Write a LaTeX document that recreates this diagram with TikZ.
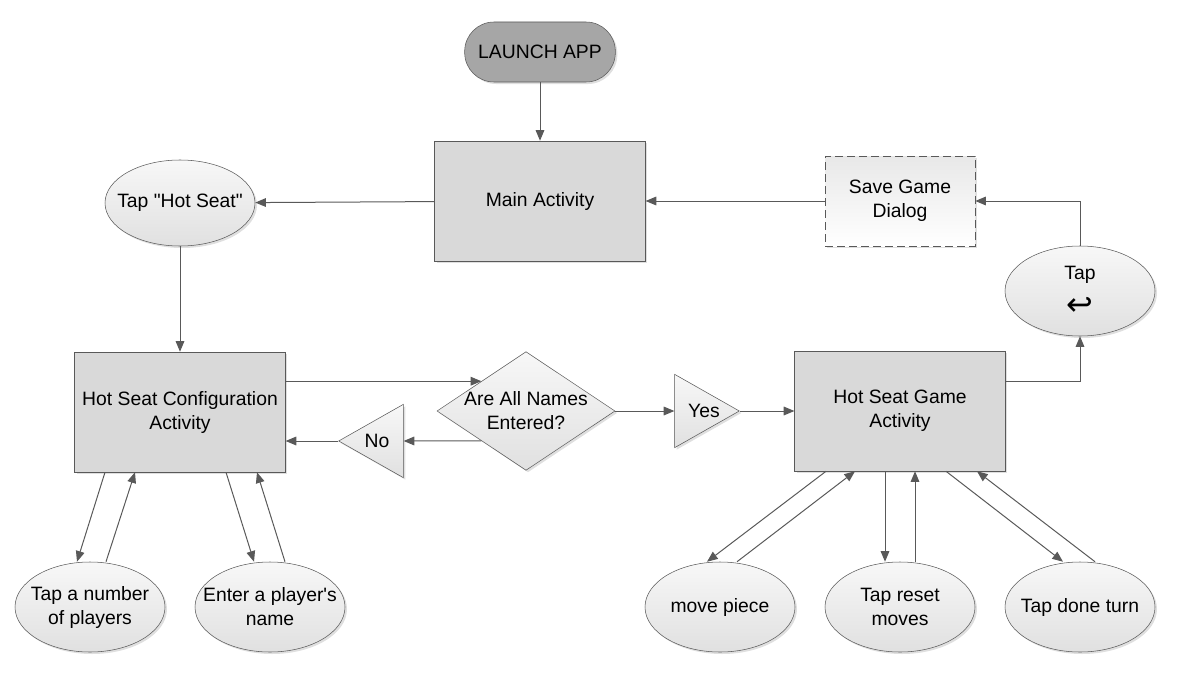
\documentclass[tikz,border=0pt]{standalone}
\usepackage{fontspec}
\setmainfont{Liberation Sans}[Ligatures=TeXOff]
\newfontfamily\symfont{DejaVu Sans}
\usepackage{tikz}
\usetikzlibrary{shapes.geometric,shadows,arrows.meta,calc}
\tikzstyle{shade}=[drop shadow={shadow xshift=1.5pt, shadow yshift=-1.5pt, opacity=0.25}]
\tikzstyle{start}=[rectangle, rounded corners=22pt, draw=black!65, fill=black!35, minimum width=113pt, minimum height=45pt, shade]
\tikzstyle{activity}=[rectangle, draw=black!65, fill=black!15, minimum width=158pt, minimum height=90pt, align=center, shade]
\tikzstyle{dialog}=[rectangle, draw=black!65, dash pattern=on 6pt off 3pt, top color=black!9, bottom color=white, minimum width=112.5pt, minimum height=67.5pt, align=center, shade]
\tikzstyle{action}=[ellipse, draw=black!65, top color=black!3, bottom color=black!12, minimum width=112.5pt, minimum height=67.5pt, inner sep=0pt, shade]
\tikzstyle{decision}=[diamond, draw=black!65, top color=black!3, bottom color=black!12, minimum width=133.5pt, minimum height=89pt, inner sep=0pt, shade]
\tikzstyle{answer}=[isosceles triangle, isosceles triangle stretches, draw=black!65, top color=black!3, bottom color=black!12, minimum width=55pt, minimum height=48.5pt, inner sep=0pt, shade]
\tikzstyle{flow}=[-{Triangle[length=8pt,width=6.5pt]}, draw=black!65, line width=0.75pt]
\tikzstyle{inside}=[align=center]

\begin{document}
\begin{tikzpicture}[x=0.75pt, y=-0.75pt, font=\fontsize{14.5}{18}\selectfont]
	\useasboundingbox (0,0) rectangle (1180,685);
	\node[start] (launch) at (540,52) {LAUNCH APP};
	\node[activity] (main) at (540,201) {Main Activity};
	\node[dialog] (save) at (900,201) {Save Game\\Dialog};
	\node[action, minimum height=64.5pt, label={[inside]center:Tap "Hot Seat"}] (hotseat) at (180,203) {};
	\node[activity] (config) at (180,412) {Hot Seat Configuration\\Activity};
	\node[decision] (check) at (526,411) {};
	\node[inside] (checktext) at (check) {Are All Names\\Entered?};
	\node[answer, shape border rotate=180, anchor=apex] (no) at (338,441) {};
	\node (notext) at (377,441) {No};
	\node[answer, anchor=apex] (yes) at (740,411) {};
	\node (yestext) at (704,411) {Yes};
	\node[activity] (game) at (900,411) {Hot Seat Game\\Activity};
	\node[action, label={[inside]center:Tap\\[9pt]{\symfont\fontsize{24}{24}\selectfont ↩}}] (back) at (1080,291) {};
	\node[action, label={[inside]center:Tap a number\\of players}] (players) at (90,607) {};
	\node[action, label={[inside]center:Enter a player's\\name}] (name) at (270,607) {};
	\node[action, label={[inside]center:move piece}] (move) at (720,607) {};
	\node[action, label={[inside]center:Tap reset\\moves}] (reset) at (900,607) {};
	\node[action, label={[inside]center:Tap done turn}] (done) at (1080,607) {};
	% main flow
	\draw[flow] (launch) -- (main);
	\draw[flow] (main) -- (hotseat);
	\draw[flow] (save) -- (main);
	\draw[flow] (hotseat) -- (config);
	\draw[flow] (config.east |- check.north west) -- (check.north west);
	\draw[flow] (check.south west) -- (no.lower side);
	\draw[flow] (no.apex) -- (no.apex -| config.east);
	\draw[flow] (check.east) -- (yes.lower side);
	\draw[flow] (yes.apex) -- (yes.apex -| game.west);
	\draw[flow] (game.east |- check.north west) -| (back.south);
	\draw[flow] (back.north) |- (save.east);
	% configuration actions
	\draw[flow] ($(config.south)+(-75,0)$) -- ($(players.north)+(-13,0)$);
	\draw[flow] ($(players.north)+(16,0)$) -- ($(config.south)+(-45,0)$);
	\draw[flow] ($(config.south)+(46,0)$) -- ($(name.north)+(-16,0)$);
	\draw[flow] ($(name.north)+(15,0)$) -- ($(config.south)+(77,0)$);
	% game actions
	\draw[flow] ($(game.south)+(-74,0)$) -- ($(move.north)+(-13,0)$);
	\draw[flow] ($(move.north)+(17,0)$) -- ($(game.south)+(-45,0)$);
	\draw[flow] ($(game.south)+(-15,0)$) -- ($(reset.north)+(-15,0)$);
	\draw[flow] ($(reset.north)+(15,0)$) -- ($(game.south)+(15,0)$);
	\draw[flow] ($(game.south)+(46,0)$) -- ($(done.north)+(-17,0)$);
	\draw[flow] ($(done.north)+(15,0)$) -- ($(game.south)+(77,0)$);
\end{tikzpicture}
\end{document}
